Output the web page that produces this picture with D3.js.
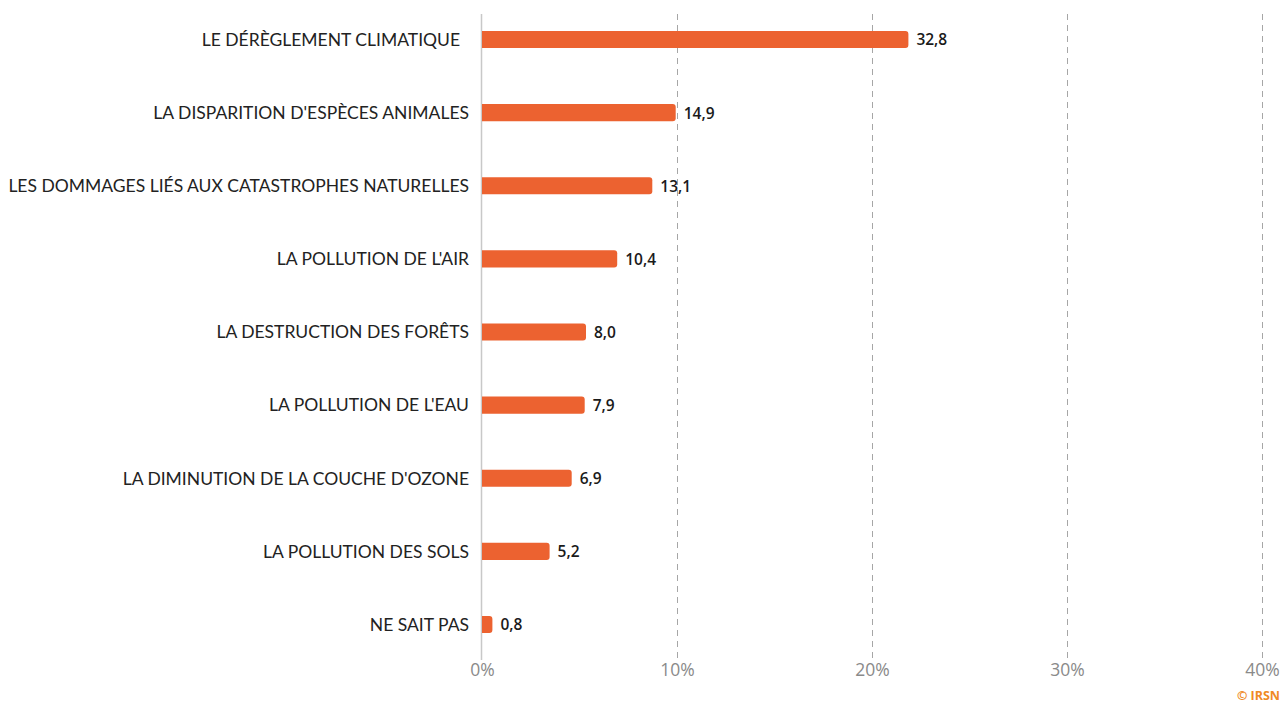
<!DOCTYPE html>
<html><head><meta charset="utf-8">
<script src="https://cdn.jsdelivr.net/npm/d3@7"></script>
<style>
body{margin:0;background:#fff;}
svg{display:block;}
</style></head>
<body>
<svg id="chart" width="1283" height="704"></svg>
<script>
const categories = [
  "LE DÉRÈGLEMENT CLIMATIQUE\u00a0\u00a0",
  "LA DISPARITION D'ESPÈCES ANIMALES",
  "LES DOMMAGES LIÉS AUX CATASTROPHES NATURELLES",
  "LA POLLUTION DE L'AIR",
  "LA DESTRUCTION DES FORÊTS",
  "LA POLLUTION DE L'EAU",
  "LA DIMINUTION DE LA COUCHE D'OZONE",
  "LA POLLUTION DES SOLS",
  "NE SAIT PAS"
];
const values = [32.8, 14.9, 13.1, 10.4, 8.0, 7.9, 6.9, 5.2, 0.8];
const valueLabels = ["32,8","14,9","13,1","10,4","8,0","7,9","6,9","5,2","0,8"];
const tickValues = [0, 10, 20, 30, 40];
const tickLabels = ["0%","10%","20%","30%","40%"];
// bars in the source are drawn against a value scale that runs to 60 over the axis width
const valueMax = 60;

(function(){
const svg = d3.select("#chart");
const mLeft = 482, mRight = 1262, mTop = 3, mBottom = 661;

const xAxisScale = d3.scaleLinear().domain([0, 40]).range([mLeft, mRight]);
const xVal = d3.scaleLinear().domain([0, valueMax]).range([mLeft, mRight]);
const y = d3.scaleBand().domain(categories).range([mTop, mBottom]).paddingInner(0.766).paddingOuter(0.383);

// gridlines
svg.append("g").selectAll("line").data(tickValues.slice(1)).join("line")
  .attr("x1", d => xAxisScale(d) + 0.5).attr("x2", d => xAxisScale(d) + 0.5)
  .attr("y1", 14).attr("y2", 660)
  .attr("stroke", "#a6a6a6").attr("stroke-width", 1).attr("stroke-dasharray", "6,5");

// baseline
svg.append("line").attr("x1", mLeft - 0.5).attr("x2", mLeft - 0.5).attr("y1", 14).attr("y2", 660)
  .attr("stroke", "#c8c8c8").attr("stroke-width", 1.5);

// bars with rounded right end
const r = 3;
svg.append("g").selectAll("path").data(values).join("path")
  .attr("fill", "#ec6230")
  .attr("d", (d, i) => {
    const x0 = xVal(0), x1 = xVal(d), y0 = y(categories[i]), h = y.bandwidth();
    const rr = Math.min(r, (x1 - x0) / 2);
    return `M${x0},${y0}H${x1 - rr}Q${x1},${y0} ${x1},${y0 + rr}V${y0 + h - rr}Q${x1},${y0 + h} ${x1 - rr},${y0 + h}H${x0}Z`;
  });

// value labels
svg.append("g").selectAll("text").data(values).join("text")
  .attr("x", d => xVal(d) + 8)
  .attr("y", (d, i) => y(categories[i]) + y.bandwidth() / 2)
  .attr("dy", "0.38em")
  .attr("font-family", "'Open Sans', sans-serif").attr("font-weight", 600).attr("font-size", 15.5)
  .attr("fill", "#1a1a1a")
  .text((d, i) => valueLabels[i]);

// category labels
svg.append("g").selectAll("text").data(categories).join("text")
  .attr("x", 469)
  .attr("y", d => y(d) + y.bandwidth() / 2)
  .attr("dy", "0.36em")
  .attr("text-anchor", "end")
  .attr("font-family", "Lato, sans-serif").attr("font-weight", 400).attr("font-size", 17.5)
  .attr("fill", "#222")
  .attr("xml:space", "preserve")
  .text(d => d);

// axis
const axis = d3.axisBottom(xAxisScale).tickValues(tickValues).tickFormat((d, i) => tickLabels[i]).tickSize(0).tickPadding(0);
const ag = svg.append("g").attr("transform", "translate(0,664)").call(axis);
ag.select(".domain").remove();
ag.selectAll("text").attr("font-family", "'Open Sans', sans-serif").attr("font-size", 17.5).attr("fill", "#8a8a8a").attr("dy", "0.71em");

// credit
svg.append("text").attr("x", 1280).attr("y", 700).attr("text-anchor", "end")
  .attr("font-family", "'Open Sans', sans-serif").attr("font-weight", 700).attr("font-size", 12.5)
  .attr("fill", "#f08a24").text("© IRSN");
})();
</script>
</body></html>
